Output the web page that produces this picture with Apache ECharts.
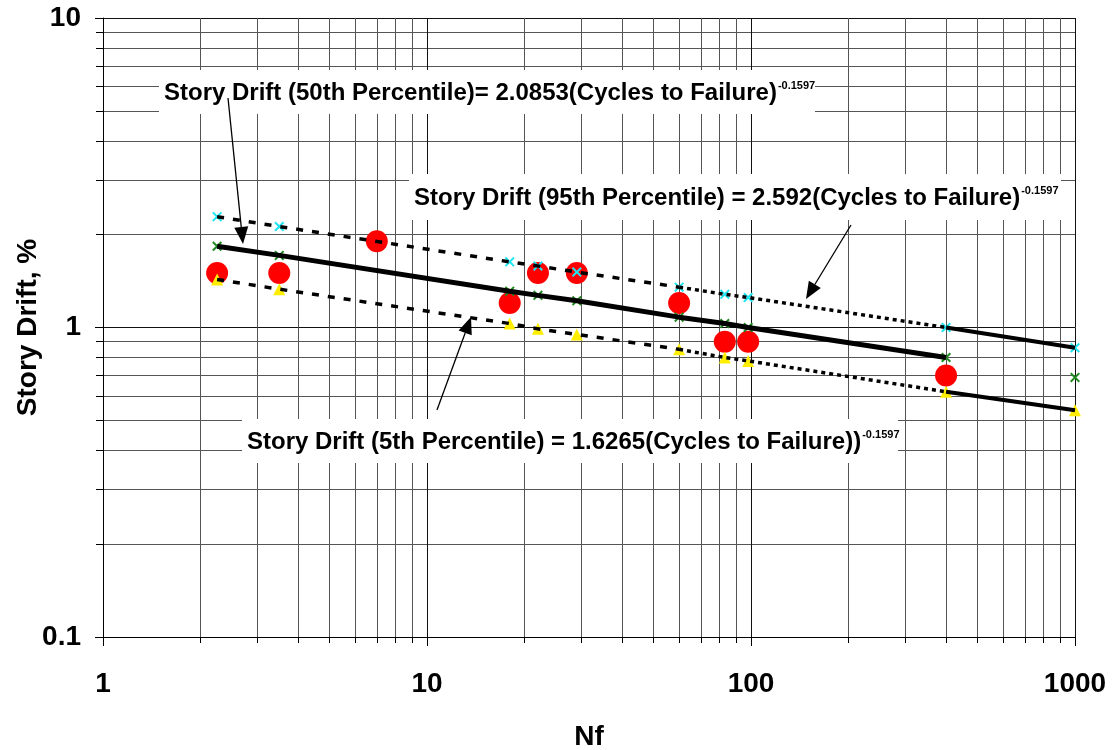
<!DOCTYPE html>
<html>
<head>
<meta charset="utf-8">
<title>Story Drift vs Nf</title>
<script src="https://cdn.jsdelivr.net/npm/echarts@6/dist/echarts.min.js"></script>
<style>
  html, body { margin: 0; padding: 0; background: #fff; }
  #chart { width: 1115px; height: 750px; }
</style>
</head>
<body>
<div id="chart"></div>
<script>
// test data (red dots)
const testNf = [2.25, 3.5, 7, 18, 22, 29, 60, 83, 98, 400]
const testDrift = [1.5, 1.5, 1.9, 1.2, 1.5, 1.5, 1.2, 0.9, 0.9, 0.7]

// percentile fit points
const fitNf = [2.25, 3.5, 18, 22, 29, 60, 83, 98, 400, 1000]
const p95 = [2.28, 2.12, 1.63, 1.58, 1.51, 1.35, 1.28, 1.25, 1.0, 0.86]
const p50 = [1.83, 1.71, 1.31, 1.27, 1.22, 1.08, 1.03, 1.0, 0.8, 0.69]
const p05 = [1.43, 1.33, 1.03, 0.99, 0.95, 0.85, 0.8, 0.78, 0.62, 0.54]

// 50th percentile trend only runs to Nf = 400
const p50LineEnd = 400

const xTicks = [1, 10, 100, 1000]
const yTicks = [0.1, 1, 10]

const FONT = '"Liberation Sans", Arial, sans-serif'

function pairs(xs, ys) {
  return xs.map((x, i) => [x, ys[i]])
}

// trend lines are dashed on the left, dotted in the middle, solid on the right
function splitAt(pts, a, b) {
  return pts.filter(p => p[0] >= a && p[0] <= b)
}

const xCross = 'path://M0,1.4L1.4,0L5,3.6L8.6,0L10,1.4L6.4,5L10,8.6L8.6,10L5,6.4L1.4,10L0,8.6L3.6,5Z'

function trend(name, pts, type, width) {
  return {
    name: name,
    type: 'line',
    data: pts,
    symbol: 'none',
    silent: true,
    z: 5,
    lineStyle: { color: '#000', width: width, type: type, cap: 'butt' }
  }
}

function arrow(x1, y1, x2, y2) {
  const dx = x2 - x1, dy = y2 - y1
  const len = Math.sqrt(dx * dx + dy * dy)
  const ux = dx / len, uy = dy / len
  const hl = 17, hw = 7
  const bx = x2 - ux * hl, by = y2 - uy * hl
  return [
    {
      type: 'line', z: 100,
      shape: { x1: x1, y1: y1, x2: bx, y2: by },
      style: { stroke: '#000', lineWidth: 1.3 }
    },
    {
      type: 'polygon', z: 100,
      shape: { points: [[x2, y2], [bx - uy * hw, by + ux * hw], [bx + uy * hw, by - ux * hw]] },
      style: { fill: '#000' }
    }
  ]
}

function note(x, y, w, h, main, sup) {
  return [
    { type: 'rect', z: 90, shape: { x: x, y: y, width: w, height: h }, style: { fill: '#fff' } },
    {
      type: 'text', z: 91, x: x + 5, y: y + h / 2 + 1,
      style: {
        text: '{a|' + main + '}{s|' + sup + '}',
        verticalAlign: 'middle',
        rich: {
          a: { fontFamily: FONT, fontWeight: 'bold', fontSize: 24, fill: '#000', lineHeight: 26 },
          s: { fontFamily: FONT, fontWeight: 'bold', fontSize: 11, fill: '#000', verticalAlign: 'top', lineHeight: 12, padding: [0, 0, 0, 1] }
        }
      }
    }
  ]
}

const chart = echarts.init(document.getElementById('chart'))

chart.setOption({
  animation: false,
  backgroundColor: '#fff',
  grid: { left: 103, right: 40, top: 18, bottom: 113, outerBoundsMode: 'none', containLabel: false },
  xAxis: {
    type: 'log',
    logBase: 10,
    min: xTicks[0],
    max: xTicks[xTicks.length - 1],
    name: 'Nf',
    nameLocation: 'middle',
    nameGap: 86,
    nameMoveOverlap: false,
    nameTextStyle: { fontFamily: FONT, fontWeight: 'bold', fontSize: 28, color: '#000' },
    axisLine: { show: true, lineStyle: { color: '#000', width: 1 } },
    axisTick: { show: true, length: 9, lineStyle: { color: '#000' } },
    minorTick: { show: true, splitNumber: 9, length: 6, lineStyle: { color: '#000' } },
    axisLabel: {
      margin: 33, fontFamily: FONT, fontWeight: 'bold', fontSize: 28, color: '#000',
      formatter: v => String(v)
    },
    splitLine: { show: true, lineStyle: { color: '#111', width: 1 } },
    minorSplitLine: { show: true, lineStyle: { color: '#555', width: 1 } }
  },
  yAxis: {
    type: 'log',
    logBase: 10,
    min: yTicks[0],
    max: yTicks[yTicks.length - 1],
    name: 'Story Drift, %',
    nameLocation: 'middle',
    nameGap: 61,
    nameMoveOverlap: false,
    nameTextStyle: { fontFamily: FONT, fontWeight: 'bold', fontSize: 28, color: '#000' },
    axisLine: { show: true, lineStyle: { color: '#000', width: 1 } },
    axisTick: { show: true, length: 8, lineStyle: { color: '#000' } },
    minorTick: { show: true, splitNumber: 9, length: 7, lineStyle: { color: '#000' } },
    axisLabel: {
      margin: 22, fontFamily: FONT, fontWeight: 'bold', fontSize: 28, color: '#000',
      formatter: v => String(v)
    },
    splitLine: { show: true, lineStyle: { color: '#111', width: 1 } },
    minorSplitLine: { show: true, lineStyle: { color: '#555', width: 1 } }
  },
  series: [
    {
      name: 'Test Data',
      type: 'scatter',
      data: pairs(testNf, testDrift),
      symbol: 'circle',
      symbolSize: 22,
      itemStyle: { color: '#ff0000', opacity: 1 },
      z: 2
    },
    {
      name: '95th',
      type: 'scatter',
      data: pairs(fitNf, p95),
      symbol: xCross,
      symbolSize: 10,
      itemStyle: { color: '#1ee6f2', opacity: 1 },
      z: 3
    },
    {
      name: '50th',
      type: 'scatter',
      data: pairs(fitNf, p50),
      symbol: xCross,
      symbolSize: 10,
      itemStyle: { color: '#1f8a1f', opacity: 1 },
      z: 3
    },
    {
      name: '5th',
      type: 'scatter',
      data: pairs(fitNf, p05),
      symbol: 'triangle',
      symbolSize: 12,
      itemStyle: { color: '#ffee00', opacity: 1 },
      z: 3
    },
    trend('50th trend', splitAt(pairs(fitNf, p50), 0, p50LineEnd), 'solid', 5),
    trend('95th trend a', splitAt(pairs(fitNf, p95), 0, 60), [7, 9], 3.5),
    trend('95th trend b', splitAt(pairs(fitNf, p95), 60, 400), [4, 4], 3.5),
    trend('95th trend c', splitAt(pairs(fitNf, p95), 400, 1000), 'solid', 4),
    trend('5th trend a', splitAt(pairs(fitNf, p05), 0, 60), [7, 9], 3.5),
    trend('5th trend b', splitAt(pairs(fitNf, p05), 60, 400), [4, 4], 3.5),
    trend('5th trend c', splitAt(pairs(fitNf, p05), 400, 1000), 'solid', 4)
  ],
  graphic: []
    .concat(note(159, 70, 656, 44, 'Story Drift (50th Percentile)= 2.0853(Cycles to Failure)', '-0.1597'))
    .concat(note(409, 174, 652, 46, 'Story Drift (95th Percentile) = 2.592(Cycles to Failure)', '-0.1597'))
    .concat(note(242, 419, 656, 44, 'Story Drift (5th Percentile) = 1.6265(Cycles to Failure))', '-0.1597'))
    .concat(arrow(228, 98, 243, 244))
    .concat(arrow(851, 225, 806, 299))
    .concat(arrow(437, 410, 471, 317))
})
</script>
</body>
</html>
